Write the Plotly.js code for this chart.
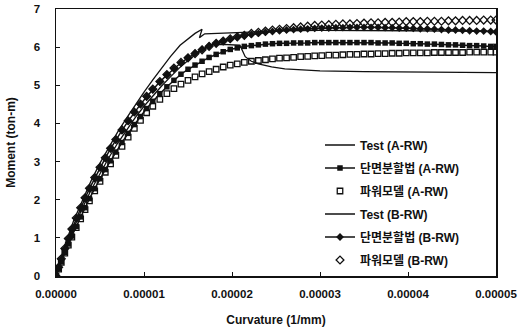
<!DOCTYPE html>
<html>
<head>
<meta charset="utf-8">
<script src="https://cdn.plot.ly/plotly-3.0.1.min.js"></script>
<style>
  html, body { margin: 0; padding: 0; background: #fff; }
  #chart { width: 520px; height: 332px; }
</style>
</head>
<body>
<div id="chart"></div>
<script>
// Curvature values in units of 1e-5 (1/mm) for the analytical models
const curvModel = [0, 0.03, 0.06, 0.1, 0.14, 0.18, 0.23, 0.28, 0.33, 0.38,
  0.44, 0.5, 0.56, 0.62, 0.68, 0.75, 0.82, 0.89, 0.96, 1.03, 1.1,
  1.18, 1.26, 1.34, 1.42, 1.5, 1.58, 1.66, 1.74, 1.82, 1.9, 1.98, 2.06, 2.14,
  2.22, 2.3, 2.38, 2.46, 2.54, 2.62, 2.7, 2.78, 2.86, 2.94, 3.02, 3.1, 3.18,
  3.26, 3.34, 3.42, 3.5, 3.58, 3.66, 3.74, 3.82, 3.9, 3.98, 4.06, 4.14, 4.22,
  4.3, 4.38, 4.46, 4.54, 4.62, 4.7, 4.78, 4.86, 4.94, 5.0];

// Moment (ton-m), section-division method, A-RW
const momentSectionA = [0, 0.19, 0.38, 0.62, 0.84, 1.05, 1.3, 1.55, 1.79, 2.03,
  2.29, 2.55, 2.79, 3.02, 3.25, 3.5, 3.74, 3.97, 4.18, 4.39, 4.58,
  4.78, 4.96, 5.13, 5.29, 5.42, 5.53, 5.63, 5.73, 5.81, 5.88, 5.94, 5.98, 6.02,
  6.04, 6.06, 6.08, 6.09, 6.1, 6.1, 6.11, 6.11, 6.11, 6.12, 6.12, 6.12, 6.12,
  6.12, 6.12, 6.12, 6.12, 6.12, 6.11, 6.11, 6.11, 6.1, 6.1, 6.09, 6.09, 6.08,
  6.08, 6.07, 6.06, 6.06, 6.05, 6.04, 6.04, 6.03, 6.02, 6.02];

// Moment (ton-m), power model, A-RW
const momentPowerA = [0, 0.18, 0.36, 0.6, 0.81, 1.02, 1.27, 1.5, 1.74, 1.97,
  2.23, 2.48, 2.72, 2.94, 3.16, 3.4, 3.64, 3.87, 4.08, 4.28, 4.45,
  4.63, 4.78, 4.91, 5.03, 5.13, 5.22, 5.3, 5.36, 5.42, 5.48, 5.53, 5.56, 5.6,
  5.63, 5.65, 5.67, 5.69, 5.71, 5.72, 5.73, 5.75, 5.76, 5.77, 5.78, 5.79, 5.79,
  5.8, 5.81, 5.81, 5.82, 5.82, 5.83, 5.83, 5.84, 5.84, 5.85, 5.85, 5.85, 5.85,
  5.86, 5.86, 5.86, 5.86, 5.86, 5.87, 5.87, 5.87, 5.87, 5.87];

// Moment (ton-m), section-division method, B-RW
const momentSectionB = [0, 0.22, 0.44, 0.71, 0.97, 1.22, 1.51, 1.78, 2.04, 2.29,
  2.57, 2.84, 3.09, 3.34, 3.57, 3.82, 4.06, 4.29, 4.5, 4.7, 4.89,
  5.09, 5.27, 5.44, 5.59, 5.72, 5.84, 5.94, 6.03, 6.1, 6.16, 6.21, 6.26, 6.3,
  6.33, 6.36, 6.39, 6.41, 6.43, 6.45, 6.46, 6.47, 6.48, 6.49, 6.5, 6.5, 6.51,
  6.51, 6.52, 6.52, 6.52, 6.52, 6.52, 6.51, 6.51, 6.5, 6.5, 6.49, 6.48, 6.48,
  6.47, 6.46, 6.45, 6.45, 6.44, 6.43, 6.42, 6.42, 6.41, 6.4];

// Moment (ton-m), power model, B-RW
const momentPowerB = [0, 0.23, 0.45, 0.72, 0.98, 1.23, 1.52, 1.79, 2.05, 2.3,
  2.58, 2.85, 3.1, 3.35, 3.58, 3.83, 4.07, 4.3, 4.51, 4.71, 4.9,
  5.1, 5.28, 5.45, 5.6, 5.72, 5.83, 5.93, 6.02, 6.1, 6.16, 6.22, 6.27, 6.31,
  6.36, 6.39, 6.42, 6.45, 6.47, 6.49, 6.51, 6.53, 6.55, 6.57, 6.58, 6.59, 6.6,
  6.61, 6.61, 6.62, 6.63, 6.64, 6.64, 6.65, 6.65, 6.66, 6.67, 6.67, 6.67, 6.68,
  6.68, 6.68, 6.69, 6.69, 6.7, 6.7, 6.7, 6.71, 6.71, 6.71];

// Measured response, A-RW
const curvTestA = [0, 0.05, 0.1, 0.2, 0.3, 0.4, 0.5, 0.6, 0.7, 0.8, 0.9, 1.0,
  1.1, 1.2, 1.3, 1.4, 1.5, 1.6, 1.7, 1.78, 1.9, 2.0, 2.09, 2.15, 2.22, 2.3,
  2.45, 2.6, 3.0, 3.5, 4.0, 4.5, 5.0];
const momentTestA = [0, 0.36, 0.68, 1.25, 1.78, 2.26, 2.7, 3.1, 3.48, 3.83, 4.15, 4.45,
  4.72, 4.98, 5.22, 5.45, 5.65, 5.83, 5.97, 6.06, 6.07, 6.06, 6.05, 5.75, 5.63, 5.56,
  5.48, 5.43, 5.38, 5.36, 5.35, 5.34, 5.33];

// Measured response, B-RW
const curvTestB = [0, 0.05, 0.1, 0.2, 0.3, 0.4, 0.5, 0.6, 0.7, 0.8, 0.9, 1.0,
  1.1, 1.2, 1.3, 1.41, 1.5, 1.58, 1.66, 1.63, 1.69, 1.8, 2.0, 2.3, 2.6, 3.0,
  3.5, 4.0, 4.5, 5.0];
const momentTestB = [0, 0.42, 0.8, 1.45, 2.0, 2.5, 2.96, 3.38, 3.77, 4.13, 4.48, 4.82,
  5.14, 5.45, 5.75, 6.05, 6.22, 6.36, 6.47, 6.25, 6.35, 6.36, 6.38, 6.41, 6.43, 6.44,
  6.44, 6.43, 6.42, 6.41];

const seriesNames = ['Test (A-RW)', '단면분할법 (A-RW)', '파워모델 (A-RW)',
  'Test (B-RW)', '단면분할법 (B-RW)', '파워모델 (B-RW)'];

const CURV_UNIT = 1e-5;
const toCurv = arr => arr.map(v => v * CURV_UNIT);

const FONT = '"Liberation Sans", Arial, "Noto Sans CJK KR", sans-serif';
const INK = '#111';

const traces = [
  { x: toCurv(curvTestA), y: momentTestA, mode: 'lines',
    line: { color: INK, width: 1.3 } },
  { x: toCurv(curvModel), y: momentSectionA, mode: 'lines+markers',
    line: { color: INK, width: 1.5 },
    marker: { symbol: 'square', size: 5.5, color: INK } },
  { x: toCurv(curvModel), y: momentPowerA, mode: 'markers',
    marker: { symbol: 'square-open', size: 5.5, color: INK, line: { width: 1.3 } } },
  { x: toCurv(curvTestB), y: momentTestB, mode: 'lines',
    line: { color: INK, width: 1.3 } },
  { x: toCurv(curvModel), y: momentSectionB, mode: 'lines+markers',
    line: { color: INK, width: 1.5 },
    marker: { symbol: 'diamond', size: 6, color: INK } },
  { x: toCurv(curvModel), y: momentPowerB, mode: 'markers',
    marker: { symbol: 'diamond-open', size: 6, color: INK, line: { width: 1.3 } } }
].map((t, i) => Object.assign(t, { name: seriesNames[i], legendgroup: 'g' + i }));

const layout = {
  width: 520, height: 332,
  margin: { l: 56, r: 24, t: 9, b: 56 },
  paper_bgcolor: '#fff', plot_bgcolor: '#fff',
  font: { family: FONT, size: 11.5, color: INK, weight: 700 },
  showlegend: true,
  legend: {
    x: 0.6, y: 0.545, xanchor: 'left', yanchor: 'top',
    bgcolor: 'rgba(0,0,0,0)', borderwidth: 0,
    traceorder: 'grouped', tracegroupgap: 4, itemwidth: 30,
    font: { family: FONT, size: 12, color: INK, weight: 700 }
  },
  xaxis: {
    range: [0, 5 * CURV_UNIT], dtick: CURV_UNIT, tick0: 0, tickformat: '.5f',
    showgrid: false, zeroline: false,
    showline: true, mirror: true, linecolor: INK, linewidth: 1.5,
    ticks: 'inside', ticklen: 4, tickcolor: INK, ticklabelstandoff: 7,
    title: { text: 'Curvature (1/mm)', standoff: 16,
             font: { family: FONT, size: 12, color: INK, weight: 700 } }
  },
  yaxis: {
    range: [0, 7], dtick: 1, tick0: 0,
    showgrid: false, zeroline: false,
    showline: true, mirror: true, linecolor: INK, linewidth: 1.5,
    ticks: 'inside', ticklen: 4, tickcolor: INK, ticklabelstandoff: 12,
    title: { text: 'Moment (ton-m)', standoff: 15,
             font: { family: FONT, size: 12, color: INK, weight: 700 } }
  }
};

Plotly.newPlot('chart', traces, layout, { displayModeBar: false, staticPlot: true });
</script>
</body>
</html>
